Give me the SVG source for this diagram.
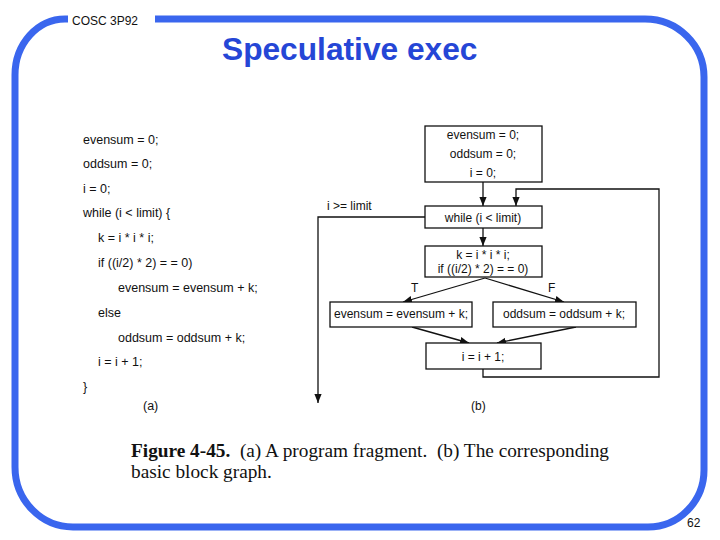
<svg xmlns="http://www.w3.org/2000/svg" width="720" height="540" viewBox="0 0 720 540">
<style>
.frame{fill:none;stroke:#3a66ee;stroke-width:7}
.code{font-family:"Liberation Sans",Arial,sans-serif;font-size:12.5px;fill:#111}
.lbl{font-family:"Liberation Sans",Arial,sans-serif;font-size:12px;fill:#111}
.bt{font-family:"Liberation Sans",Arial,sans-serif;font-size:12px;fill:#111;text-anchor:middle}
.box{fill:#fff;stroke:#111;stroke-width:1.3}
.ln{fill:none;stroke:#111;stroke-width:1.3}
.cap{font-family:"Liberation Serif","Times New Roman",serif;font-size:19.3px;fill:#111;white-space:pre}
</style>
<defs>
<marker id="ah" viewBox="0 0 10 10" refX="10" refY="5" markerWidth="9" markerHeight="9" markerUnits="userSpaceOnUse" orient="auto">
<path d="M0,1 L10,5 L0,9 Z" fill="#111"/>
</marker>
</defs>
<g id="frame">
<path class="frame" d="M155,19 L645,19 A59,58 0 0 1 704,77 L704,470 A56,57 0 0 1 648,527 L73,527 A58,60 0 0 1 15,467 L15,75 A50,56 0 0 1 65,19 L68,19"/>
<text x="72" y="25" style="font-family:'Liberation Sans',Arial,sans-serif;font-size:12px;fill:#111">COSC 3P92</text>
<text x="222" y="60" style="font-family:'Liberation Sans',Arial,sans-serif;font-size:31.7px;font-weight:bold;fill:#2546d6">Speculative exec</text>
<text x="687" y="527" style="font-family:'Liberation Sans',Arial,sans-serif;font-size:12px;fill:#111">62</text>
</g>
<g id="code">
<text class="code" x="83" y="144">evensum = 0;</text>
<text class="code" x="83" y="168">oddsum = 0;</text>
<text class="code" x="83" y="193">i = 0;</text>
<text class="code" x="83" y="217">while (i &lt; limit) {</text>
<text class="code" x="98" y="242">k = i * i * i;</text>
<text class="code" x="98" y="267">if ((i/2) * 2) = = 0)</text>
<text class="code" x="118" y="292">evensum = evensum + k;</text>
<text class="code" x="98" y="317">else</text>
<text class="code" x="118" y="342">oddsum = oddsum + k;</text>
<text class="code" x="98" y="366">i = i + 1;</text>
<text class="code" x="83" y="391">}</text>
<text class="code" x="143" y="410">(a)</text>
</g>
<g id="connectors">
<line class="ln" x1="483" y1="182" x2="483" y2="206" marker-end="url(#ah)"/>
<path class="ln" d="M483,369 L483,377 L659,377 L659,189 L516,189 L516,206" marker-end="url(#ah)"/>
<path class="ln" d="M425,217 L318,217 L318,403" marker-end="url(#ah)"/>
<line class="ln" x1="483" y1="228" x2="483" y2="246" marker-end="url(#ah)"/>
<line class="ln" x1="485" y1="278" x2="403" y2="302" marker-end="url(#ah)"/>
<line class="ln" x1="485" y1="278" x2="564" y2="302" marker-end="url(#ah)"/>
<line class="ln" x1="412" y1="327" x2="469" y2="343" marker-end="url(#ah)"/>
<line class="ln" x1="576" y1="327" x2="497" y2="343" marker-end="url(#ah)"/>
<text class="lbl" x="327" y="210">i &gt;= limit</text>
<text class="lbl" x="411" y="292">T</text>
<text class="lbl" x="548" y="292">F</text>
<text class="lbl" x="471" y="410">(b)</text>
</g>
<g id="init">
<rect class="box" x="425" y="126" width="117" height="56"/>
<text class="bt" x="483" y="139">evensum = 0;</text>
<text class="bt" x="483" y="158">oddsum = 0;</text>
<text class="bt" x="483" y="177">i = 0;</text>
</g>
<g id="while">
<rect class="box" x="425" y="206" width="117" height="22"/>
<text class="bt" x="483" y="222">while (i &lt; limit)</text>
</g>
<g id="cond">
<rect class="box" x="425" y="246" width="117" height="31"/>
<text class="bt" x="483" y="259">k = i * i * i;</text>
<text class="bt" x="483" y="273">if ((i/2) * 2) = = 0)</text>
</g>
<g id="even">
<rect class="box" x="330" y="302" width="142" height="25"/>
<text class="bt" x="401" y="318">evensum = evensum + k;</text>
</g>
<g id="odd">
<rect class="box" x="493" y="302" width="143" height="25"/>
<text class="bt" x="564" y="318">oddsum = oddsum + k;</text>
</g>
<g id="incr">
<rect class="box" x="426" y="343" width="115" height="26"/>
<text class="bt" x="483" y="361">i = i + 1;</text>
</g>
<g id="caption">
<text class="cap" x="131" y="457" xml:space="preserve"><tspan font-weight="bold">Figure 4-45.</tspan>  (a) A program fragment.  (b) The corresponding</text>
<text class="cap" x="131" y="478">basic block graph.</text>
</g>
</svg>
